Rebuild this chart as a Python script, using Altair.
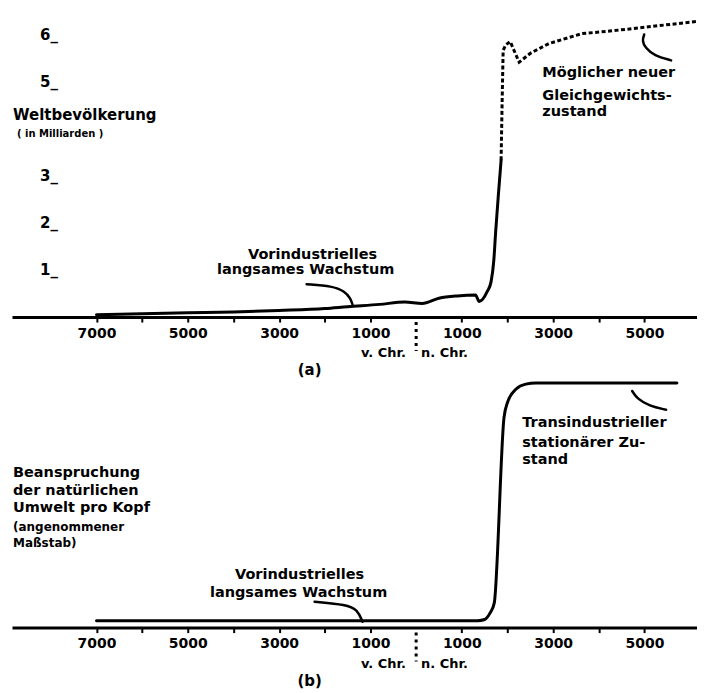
import altair as alt
import pandas as pd

FONT = "DejaVu Sans"

# ---- shared x axis: signed years (negative = v. Chr.) ----
X_DOMAIN = [-8850, 6150]
TICK_YEARS = [-7000, -6000, -5000, -4000, -3000, -2000, -1000, 1000, 2000, 3000, 4000, 5000]

# ---- (a) Weltbevölkerung in Milliarden ----
POP_SOLID_YEARS = [-7000, -6000, -5000, -4000, -3000, -2000, -1500, -800, -250, 130, 500, 900,
                   1300, 1380, 1560, 1640, 1700, 1740, 1800, 1860]
POP_SOLID_VALUES = [0.05, 0.07, 0.09, 0.11, 0.14, 0.18, 0.22, 0.27, 0.32, 0.29, 0.40, 0.45,
                    0.47, 0.33, 0.55, 0.75, 1.2, 1.8, 2.6, 3.34]
POP_DASH_YEARS = [1860, 1885, 1905, 1960, 2060, 2255, 2500, 2910, 3635, 4300, 4950, 5600, 6150]
POP_DASH_VALUES = [3.34, 4.7, 5.68, 5.8, 5.87, 5.43, 5.62, 5.83, 6.04, 6.1, 6.17, 6.24, 6.3]
Y_TICKS_A = [1, 2, 3, 5, 6]
Y_MAX_A = 6.49

# ---- (b) Beanspruchung der natuerlichen Umwelt pro Kopf ----
ENV_YEARS = [-7000, -3000, 0, 1350, 1500, 1620, 1710, 1925, 2000, 2190, 2400, 2625, 4000, 5710]
ENV_VALUES = [0.28, 0.28, 0.28, 0.28, 0.33, 0.6, 1.0, 8.6, 9.2, 9.75, 9.95, 10, 10, 10]
Y_MAX_B = 10.12

# ---- annotation texts ----
A_LEFT_TEXT = ["Weltbevölkerung", "( in Milliarden )", "Möglicher neuer", "Gleichgewichts-", "zustand"]
A_LEFT_X = [-8828, -8740, 2763, 2763, 2763]
A_LEFT_Y = [4.30, 3.91, 5.19, 4.72, 4.36]
A_LEFT_SIZE = [15, 10, 14.5, 14.5, 14.5]
A_CENTER_TEXT = ["Vorindustrielles", "langsames Wachstum"]
A_CENTER_X = [-2268, -2420]
A_CENTER_Y = [1.32, 1.0]

B_LEFT_TEXT = ["Beanspruchung", "der natürlichen", "Umwelt pro Kopf", "(angenommener", "Maßstab)",
               "Transindustrieller", "stationärer Zu-", "stand"]
B_LEFT_X = [-8828, -8828, -8828, -8828, -8828, 2323, 2323, 2323]
B_LEFT_Y = [6.33, 5.59, 4.90, 4.12, 3.47, 8.37, 7.55, 6.86]
B_LEFT_SIZE = [14.5, 14.5, 14.5, 12, 12, 14.5, 14.5, 14.5]
B_CENTER_TEXT = ["Vorindustrielles", "langsames Wachstum"]
B_CENTER_X = [-2552, -2574]
B_CENTER_Y = [2.16, 1.43]

ERA_TEXT = ["v. Chr.", "n. Chr."]
ERA_X = [-715, 619]
PANEL_LABEL_X = -2333

# ---- annotation arrows (year, value) ----
A_ARROW1_X = [-2399, -1831, -1569, -1437, -1392]
A_ARROW1_Y = [0.70, 0.66, 0.55, 0.40, 0.26]
A_ARROW2_X = [5583, 5211, 5014, 4949, 4993]
A_ARROW2_Y = [5.47, 5.57, 5.74, 5.89, 6.02]
B_ARROW1_X = [-2224, -1524, -1283, -1174]
B_ARROW1_Y = [1.06, 0.94, 0.73, 0.24]
B_ARROW2_X = [5473, 5102, 4839, 4730]
B_ARROW2_Y = [8.90, 9.06, 9.35, 9.67]

W = 686
H_A = 305
H_B = 248

xscale = alt.Scale(domain=X_DOMAIN, nice=False, zero=False)
xaxis = alt.Axis(
    values=TICK_YEARS, title=None, grid=False,
    labelExpr="datum.value % 2000 == 0 ? '' : format(abs(datum.value), 'd')",
    domainColor="black", domainWidth=3, tickColor="black", tickWidth=2, tickSize=5,
    labelFont=FONT, labelFontWeight="bold", labelFontSize=14, labelColor="black",
    labelPadding=4, labelOverlap=False, labelFlush=False,
)


def X(field="year"):
    return alt.X(f"{field}:Q", scale=xscale, axis=xaxis)


def Y(ymax, field="value"):
    return alt.Y(f"{field}:Q", scale=alt.Scale(domain=[0, ymax], nice=False, zero=False), axis=None)


def line_df(xs, ys):
    return pd.DataFrame({"year": xs, "value": ys, "i": list(range(len(xs)))})


def curve(xs, ys, ymax, dash=None, width=3.0, interp="monotone", cap="round"):
    kw = dict(color="black", strokeWidth=width, interpolate=interp, clip=True, strokeCap=cap)
    if dash:
        kw["strokeDash"] = dash
    return alt.Chart(line_df(xs, ys)).mark_line(**kw).encode(
        x=X(), y=Y(ymax), order=alt.Order("i:Q"))


def texts(txt, xs, ys, sizes, ymax, align):
    df = pd.DataFrame({"year": xs, "value": ys, "t": txt, "s": sizes})
    return alt.Chart(df).mark_text(
        font=FONT, fontWeight="bold", color="black", align=align, baseline="middle"
    ).encode(x=X(), y=Y(ymax), text="t:N", size=alt.Size("s:Q", scale=None, legend=None))


def below_axis(h, ymax, label):
    sep = alt.Chart(pd.DataFrame({"year": [0]})).mark_rule(
        color="black", strokeWidth=3, strokeDash=[3, 4]
    ).encode(x=X(), y=alt.value(h + 5), y2=alt.value(h + 34))
    era = alt.Chart(pd.DataFrame({"year": ERA_X, "t": ERA_TEXT})).mark_text(
        font=FONT, fontWeight="bold", fontSize=13, color="black", baseline="middle"
    ).encode(x=X(), y=alt.value(h + 36), text="t:N")
    pl = alt.Chart(pd.DataFrame({"year": [PANEL_LABEL_X], "t": [label]})).mark_text(
        font=FONT, fontWeight="bold", fontSize=15, color="black", baseline="middle"
    ).encode(x=X(), y=alt.value(h + 53), text="t:N")
    return [sep, era, pl]


# ---------- panel (a) ----------
a_layers = [
    curve(POP_SOLID_YEARS, POP_SOLID_VALUES, Y_MAX_A),
    curve(POP_DASH_YEARS, POP_DASH_VALUES, Y_MAX_A, dash=[4, 2.5], interp="linear", cap="butt"),
    curve(A_ARROW1_X, A_ARROW1_Y, Y_MAX_A, width=2.5, interp="basis"),
    curve(A_ARROW2_X, A_ARROW2_Y, Y_MAX_A, width=2.5, interp="basis"),
    texts(A_LEFT_TEXT, A_LEFT_X, A_LEFT_Y, A_LEFT_SIZE, Y_MAX_A, "left"),
    texts(A_CENTER_TEXT, A_CENTER_X, A_CENTER_Y, [14.5] * len(A_CENTER_TEXT), Y_MAX_A, "center"),
    texts([f"{v}_" for v in Y_TICKS_A], [-8237] * len(Y_TICKS_A), Y_TICKS_A, [15] * len(Y_TICKS_A),
          Y_MAX_A, "left"),
] + below_axis(H_A, Y_MAX_A, "(a)")
panel_a = alt.layer(*a_layers).properties(width=W, height=H_A)

# ---------- panel (b) ----------
b_layers = [
    curve(ENV_YEARS, ENV_VALUES, Y_MAX_B),
    curve(B_ARROW1_X, B_ARROW1_Y, Y_MAX_B, width=2.5, interp="basis"),
    curve(B_ARROW2_X, B_ARROW2_Y, Y_MAX_B, width=2.5, interp="basis"),
    texts(B_LEFT_TEXT, B_LEFT_X, B_LEFT_Y, B_LEFT_SIZE, Y_MAX_B, "left"),
    texts(B_CENTER_TEXT, B_CENTER_X, B_CENTER_Y, [14.5] * len(B_CENTER_TEXT), Y_MAX_B, "center"),
] + below_axis(H_B, Y_MAX_B, "(b)")
panel_b = alt.layer(*b_layers).properties(width=W, height=H_B)

chart = alt.vconcat(panel_a, panel_b, spacing=2).properties(
    padding={"left": 4, "top": 4, "right": 0, "bottom": 0},
    background="white",
).configure_view(strokeWidth=0)

chart.save("out.html", embed_options={"renderer": "svg", "actions": False})
